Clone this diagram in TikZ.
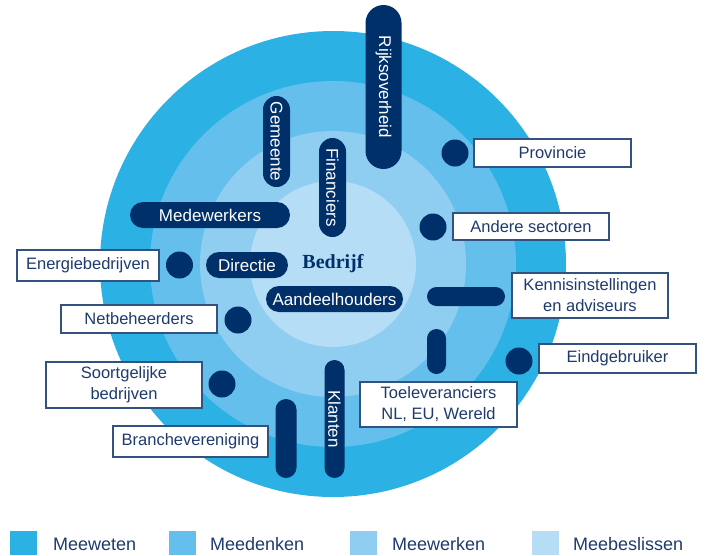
\documentclass[tikz,border=0pt]{standalone}
\usepackage{fontspec}
\setmainfont{Liberation Sans}
\newfontfamily\serifb{Liberation Serif}
\usetikzlibrary{shapes.misc}
\definecolor{cA}{HTML}{2CB1E5}
\definecolor{cB}{HTML}{64BFEC}
\definecolor{cC}{HTML}{8FCEF0}
\definecolor{cD}{HTML}{B5DDF5}
\definecolor{navy}{HTML}{00306A}
\definecolor{boxline}{HTML}{34527F}
\definecolor{boxtext}{HTML}{1E3A6E}
\begin{document}
\begin{tikzpicture}[x=1pt,y=-1pt,
  pill/.style={rounded rectangle, fill=navy, text=white, inner sep=0pt, font=\fontsize{17}{20}\selectfont},
  dot/.style={circle, fill=navy, minimum size=27pt, inner sep=0pt},
  lbl/.style={draw=boxline, line width=1.1pt, fill=white, text=boxtext, inner sep=0pt, align=center, font=\fontsize{16.5}{21}\selectfont},
  ring/.style={circle, inner sep=0pt},
  legsq/.style={minimum width=27pt, minimum height=24pt, inner sep=0pt},
  legtx/.style={anchor=west, text=boxtext, inner sep=0pt, font=\fontsize{18}{20}\selectfont}
]
\useasboundingbox (0,0) rectangle (705,555);
% rings
\node[ring, fill=cA, minimum size=466pt] (r1) at (333,264) {};
\node[ring, fill=cB, minimum size=366pt] (r2) at (333,264) {};
\node[ring, fill=cC, minimum size=266pt] (r3) at (333,264) {};
\node[ring, fill=cD, minimum size=166pt] (r4) at (333,264) {};
% pills
\node[pill, rotate=-90, minimum width=164pt, minimum height=36pt] (rijk) at (383.5,87) {Rijksoverheid};
\node[pill, rotate=-90, minimum width=91pt, minimum height=27pt] (gem) at (276.5,141.5) {Gemeente};
\node[pill, rotate=-90, minimum width=99pt, minimum height=27pt] (fin) at (332.5,187.5) {Financiers};
\node[pill, minimum width=160pt, minimum height=26pt] (med) at (210,215) {Medewerkers};
\node[pill, minimum width=82pt, minimum height=26pt] (dir) at (247,265) {Directie};
\node[pill, minimum width=137pt, minimum height=26pt] (aand) at (334.5,299) {Aandeelhouders};
\node[pill, rotate=-90, minimum width=118pt, minimum height=20pt] (klant) at (334.5,419) {Klanten};
\node[pill, rotate=-90, minimum width=79pt, minimum height=21pt] (barA) at (286,438.5) {};
\node[pill, rotate=-90, minimum width=45pt, minimum height=19pt] (barB) at (436.5,351.5) {};
\node[pill, minimum width=78pt, minimum height=19pt] (barC) at (466,296.5) {};
% centre
\node[text=navy, inner sep=0pt, font=\serifb\bfseries\fontsize{20}{24}\selectfont] (bed) at (333,264) {Bedrijf};
% dots
\node[dot] (dprov) at (455,153) {};
\node[dot] (dand) at (433,227) {};
\node[dot] (deind) at (519,361) {};
\node[dot] (dener) at (179.5,265) {};
\node[dot] (dnet) at (238,320) {};
\node[dot] (dsoort) at (222,384) {};
% label boxes
\node[lbl, minimum width=157pt, minimum height=28pt] (prov) at (552.5,153) {Provincie};
\node[lbl, minimum width=156pt, minimum height=27pt] (and) at (531,226.5) {Andere sectoren};
\node[lbl, minimum width=156pt, minimum height=45pt] (kenn) at (590,295.5) {Kennisinstellingen\\en adviseurs};
\node[lbl, minimum width=157pt, minimum height=29pt] (eind) at (617.5,358.5) {Eindgebruiker};
\node[lbl, minimum width=157pt, minimum height=45pt] (toel) at (438.5,404.5) {Toeleveranciers\\NL, EU, Wereld};
\node[lbl, minimum width=142pt, minimum height=31pt] (ener) at (88,265.5) {Energiebedrijven};
\node[lbl, minimum width=156pt, minimum height=28pt] (net) at (139,319) {Netbeheerders};
\node[lbl, minimum width=156pt, minimum height=46pt] (soort) at (124,385) {Soortgelijke\\bedrijven};
\node[lbl, minimum width=155pt, minimum height=31pt] (branch) at (190.5,441.5) {Branchevereniging};
% legend
\node[legsq, fill=cA] (lA) at (23.5,543) {};
\node[legtx] (tA) at (53,544) {Meeweten};
\node[legsq, fill=cB] (lB) at (182.5,543) {};
\node[legtx] (tB) at (210,544) {Meedenken};
\node[legsq, fill=cC] (lC) at (363.5,543) {};
\node[legtx] (tC) at (392,544) {Meewerken};
\node[legsq, fill=cD] (lD) at (545,543) {};
\node[legtx] (tD) at (573,544) {Meebeslissen};
\end{tikzpicture}
\end{document}
